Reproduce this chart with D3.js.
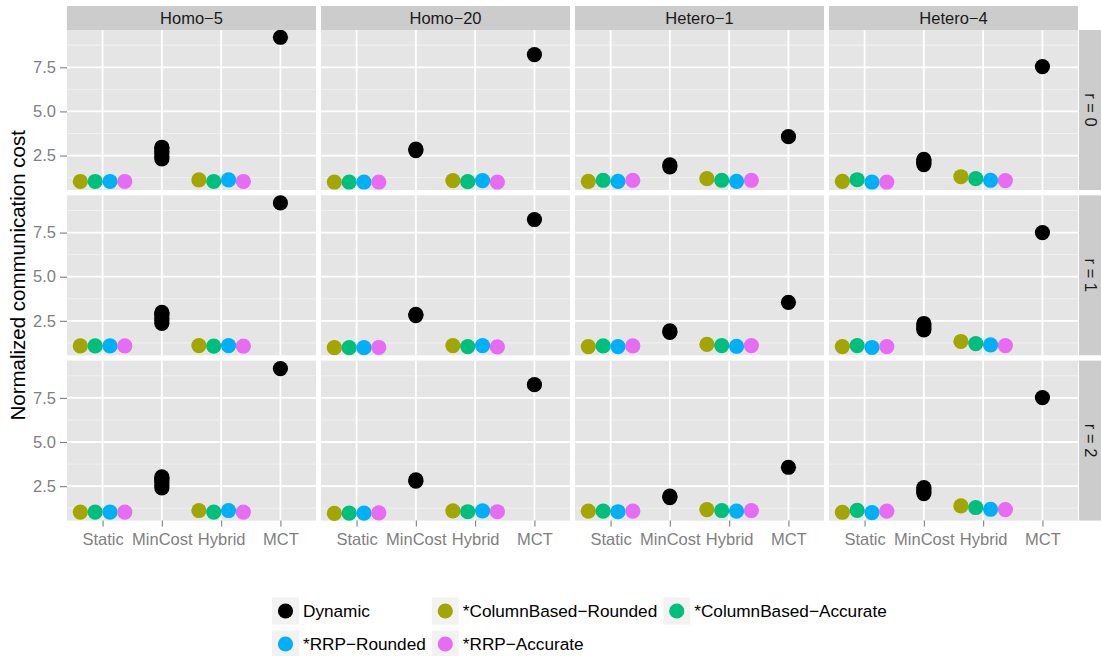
<!DOCTYPE html>
<html>
<head>
<meta charset="utf-8">
<script src="https://cdn.jsdelivr.net/npm/d3@7"></script>
<style>
  html, body { margin: 0; padding: 0; background: #ffffff; }
  svg { display: block; font-family: "Liberation Sans", Arial, sans-serif; }
</style>
</head>
<body>
<svg id="chart" width="1101" height="656"></svg>
<script>
// ---------------- data ----------------
const platforms = ["Homo\u22125", "Homo\u221220", "Hetero\u22121", "Hetero\u22124"];
const replications = ["r = 0", "r = 1", "r = 2"];
const heuristics = ["Static", "MinCost", "Hybrid", "MCT"];
const seriesNames = ["Dynamic", "*ColumnBased\u2212Rounded", "*ColumnBased\u2212Accurate", "*RRP\u2212Rounded", "*RRP\u2212Accurate"];
const seriesColors = ["#000000", "#A3A500", "#00BF7D", "#00B0F6", "#E76BF3"];
const yTicks = [2.5, 5.0, 7.5];
const yTitle = "Normalized communication cost";

// values indexed [replication row][platform]
const staticCBR  = [[1.03, 1.00, 1.04, 1.04], [1.08, 0.98, 1.04, 1.04], [1.03, 0.96, 1.08, 1.02]];
const staticCBA  = [[1.03, 1.00, 1.10, 1.13], [1.08, 0.98, 1.08, 1.10], [1.03, 0.97, 1.08, 1.13]];
const staticRRPR = [[1.03, 1.00, 1.04, 1.00], [1.08, 0.98, 1.04, 0.99], [1.03, 0.97, 1.05, 1.00]];
const staticRRPA = [[1.03, 1.00, 1.10, 1.00], [1.08, 0.99, 1.08, 1.04], [1.03, 0.98, 1.08, 1.08]];
const hybridCBR  = [[1.12, 1.08, 1.19, 1.30], [1.10, 1.10, 1.17, 1.33], [1.12, 1.10, 1.17, 1.38]];
const hybridCBA  = [[1.03, 1.02, 1.10, 1.19], [1.07, 1.04, 1.10, 1.21], [1.03, 1.05, 1.12, 1.29]];
const hybridRRPR = [[1.12, 1.08, 1.04, 1.10], [1.10, 1.10, 1.06, 1.14], [1.12, 1.10, 1.08, 1.19]];
const hybridRRPA = [[1.03, 1.00, 1.10, 1.08], [1.07, 1.02, 1.10, 1.10], [1.03, 1.05, 1.12, 1.17]];
// Dynamic: several runs at MinCost, one at MCT
const dynamicMinCost = [
  [[2.31, 2.45, 2.60, 2.75, 2.90, 2.97], [2.78, 2.87], [1.86, 1.97], [1.99, 2.10, 2.20, 2.29]],
  [[2.36, 2.50, 2.65, 2.80, 2.92, 2.98], [2.80, 2.87], [1.85, 1.93], [1.99, 2.10, 2.22, 2.35]],
  [[2.40, 2.55, 2.70, 2.85, 2.95, 3.02], [2.78, 2.85], [1.85, 1.93], [2.08, 2.20, 2.32, 2.42]]
];
const dynamicMCT = [[9.20, 8.22, 3.57, 7.54], [9.18, 8.24, 3.55, 7.50], [9.16, 8.25, 3.57, 7.52]];

// ---------------- build records ----------------
const colored = [
  { s: 1, st: staticCBR,  hy: hybridCBR },
  { s: 2, st: staticCBA,  hy: hybridCBA },
  { s: 3, st: staticRRPR, hy: hybridRRPR },
  { s: 4, st: staticRRPA, hy: hybridRRPA }
];
const records = [];
replications.forEach((r, ri) => {
  platforms.forEach((p, pi) => {
    colored.forEach((c, ci) => {
      records.push({ row: ri, col: pi, h: "Static", series: c.s, dodge: ci, v: c.st[ri][pi] });
      records.push({ row: ri, col: pi, h: "Hybrid", series: c.s, dodge: ci, v: c.hy[ri][pi] });
    });
    dynamicMinCost[ri][pi].forEach(v => records.push({ row: ri, col: pi, h: "MinCost", series: 0, dodge: null, v }));
    records.push({ row: ri, col: pi, h: "MCT", series: 0, dodge: null, v: dynamicMCT[ri][pi] });
  });
});

// ---------------- layout ----------------
const svg = d3.select("#chart");
const panelLeft = 67, panelW = 249, gapX = 5;
const panelTop = 30, panelH = 160, gapY = 5.3;
const stripH = 24, rStripW = 23;
const baseFont = 16.5;
const legendFont = 17.2;
const radius = 7.6;

const ext = d3.extent(records, d => d.v);
const pad = (ext[1] - ext[0]) * 0.05;
const y = d3.scaleLinear().domain([ext[0] - pad, ext[1] + pad]).range([panelH, 0]);
const x = d3.scalePoint().domain(heuristics).range([0, panelW]).padding(0.6);
const step = x.step();
const minorY = yTicks.map(t => t - 1.25).concat([yTicks[yTicks.length - 1] + 1.25])
  .filter(v => v > y.domain()[0] && v < y.domain()[1]);

const color = i => seriesColors[i];

replications.forEach((r, ri) => {
  platforms.forEach((p, pi) => {
    const px = panelLeft + pi * (panelW + gapX);
    const py = panelTop + ri * (panelH + gapY);
    const g = svg.append("g").attr("transform", `translate(${px},${py})`);
    g.append("rect").attr("width", panelW).attr("height", panelH).attr("fill", "#E5E5E5");
    // minor grid
    g.selectAll(".minor").data(minorY).enter().append("line")
      .attr("x1", 0).attr("x2", panelW)
      .attr("y1", d => y(d)).attr("y2", d => y(d))
      .attr("stroke", "#F2F2F2").attr("stroke-width", 0.9);
    // major grid
    g.selectAll(".majorY").data(yTicks).enter().append("line")
      .attr("x1", 0).attr("x2", panelW)
      .attr("y1", d => y(d)).attr("y2", d => y(d))
      .attr("stroke", "#FFFFFF").attr("stroke-width", 1.8);
    g.selectAll(".majorX").data(heuristics).enter().append("line")
      .attr("y1", 0).attr("y2", panelH)
      .attr("x1", d => x(d)).attr("x2", d => x(d))
      .attr("stroke", "#FFFFFF").attr("stroke-width", 1.8);
    // points
    const pts = records.filter(d => d.row === ri && d.col === pi)
      .sort((a, b) => (a.dodge === null ? -1 : a.dodge) - (b.dodge === null ? -1 : b.dodge));
    g.selectAll("circle.pt").data(pts).enter().append("circle")
      .attr("cx", d => x(d.h) + (d.dodge === null ? 0 : (d.dodge - 1.5) * 0.25 * step))
      .attr("cy", d => y(d.v))
      .attr("r", radius)
      .attr("fill", d => color(d.series));

    // top strips
    if (ri === 0) {
      const s = svg.append("g").attr("transform", `translate(${px},${panelTop - stripH})`);
      s.append("rect").attr("width", panelW).attr("height", stripH).attr("fill", "#CCCCCC");
      s.append("text").attr("x", panelW / 2).attr("y", 18).attr("text-anchor", "middle")
        .attr("font-size", baseFont).attr("fill", "#1A1A1A").text(p);
    }
    // right strips
    if (pi === platforms.length - 1) {
      const sx = px + panelW + 1;
      const s = svg.append("g").attr("transform", `translate(${sx},${py})`);
      s.append("rect").attr("width", rStripW).attr("height", panelH).attr("fill", "#CCCCCC");
      s.append("text").attr("transform", `translate(5.5,${panelH / 2}) rotate(90)`)
        .attr("text-anchor", "middle").attr("font-size", baseFont).attr("fill", "#1A1A1A").text(r);
    }
    // y axis
    if (pi === 0) {
      const ax = svg.append("g").attr("transform", `translate(${px},${py})`)
        .call(d3.axisLeft(y).tickValues(yTicks).tickFormat(d3.format(".1f")).tickSize(7).tickPadding(4));
      ax.select(".domain").remove();
      ax.selectAll("line").attr("stroke", "#7F7F7F").attr("stroke-width", 1.1);
      ax.selectAll("text").attr("fill", "#7F7F7F").attr("font-size", baseFont)
        .attr("font-family", "Liberation Sans, Arial, sans-serif");
    }
    // x axis
    if (ri === replications.length - 1) {
      const ax = svg.append("g").attr("transform", `translate(${px},${py + panelH})`)
        .call(d3.axisBottom(x).tickSize(6).tickPadding(6.3));
      ax.select(".domain").remove();
      ax.selectAll("line").attr("stroke", "#7F7F7F").attr("stroke-width", 1.1);
      ax.selectAll("text").attr("fill", "#7F7F7F").attr("font-size", baseFont)
        .attr("font-family", "Liberation Sans, Arial, sans-serif");
    }
  });
});

// y title
const plotMid = panelTop + (replications.length * panelH + (replications.length - 1) * gapY) / 2;
svg.append("text").attr("transform", `translate(24.5,${plotMid}) rotate(-90)`)
  .attr("text-anchor", "middle").attr("font-size", 20.5).attr("fill", "#000000").text(yTitle);

// ---------------- legend ----------------
const legendRows = [[0, 1, 2], [3, 4]];
const keySize = 27;
const legendLeft = 272;
const rowCenters = [611, 644];
const textGap = 4, colGap = 6;
// measure text widths
const meas = svg.append("text").attr("font-size", legendFont).attr("visibility", "hidden");
const widths = seriesNames.map(n => { meas.text(n); return meas.node().getComputedTextLength(); });
meas.remove();
const nCols = 3;
const colWidths = d3.range(nCols).map(c => d3.max(legendRows, row => row[c] !== undefined ? widths[row[c]] : 0));
const colStarts = [];
let cx0 = legendLeft;
for (let c = 0; c < nCols; c++) { colStarts.push(cx0); cx0 += keySize + textGap + colWidths[c] + colGap; }
const lg = svg.append("g");
legendRows.forEach((row, rIdx) => {
  row.forEach((si, c) => {
    const kx = colStarts[c], cy = rowCenters[rIdx];
    lg.append("rect").attr("x", kx).attr("y", cy - keySize / 2).attr("width", keySize).attr("height", keySize)
      .attr("fill", "#F2F2F2");
    lg.append("circle").attr("cx", kx + keySize / 2).attr("cy", cy).attr("r", radius).attr("fill", color(si));
    lg.append("text").attr("x", kx + keySize + textGap).attr("y", cy + 6)
      .attr("font-size", legendFont).attr("fill", "#000000").text(seriesNames[si]);
  });
});
</script>
</body>
</html>
